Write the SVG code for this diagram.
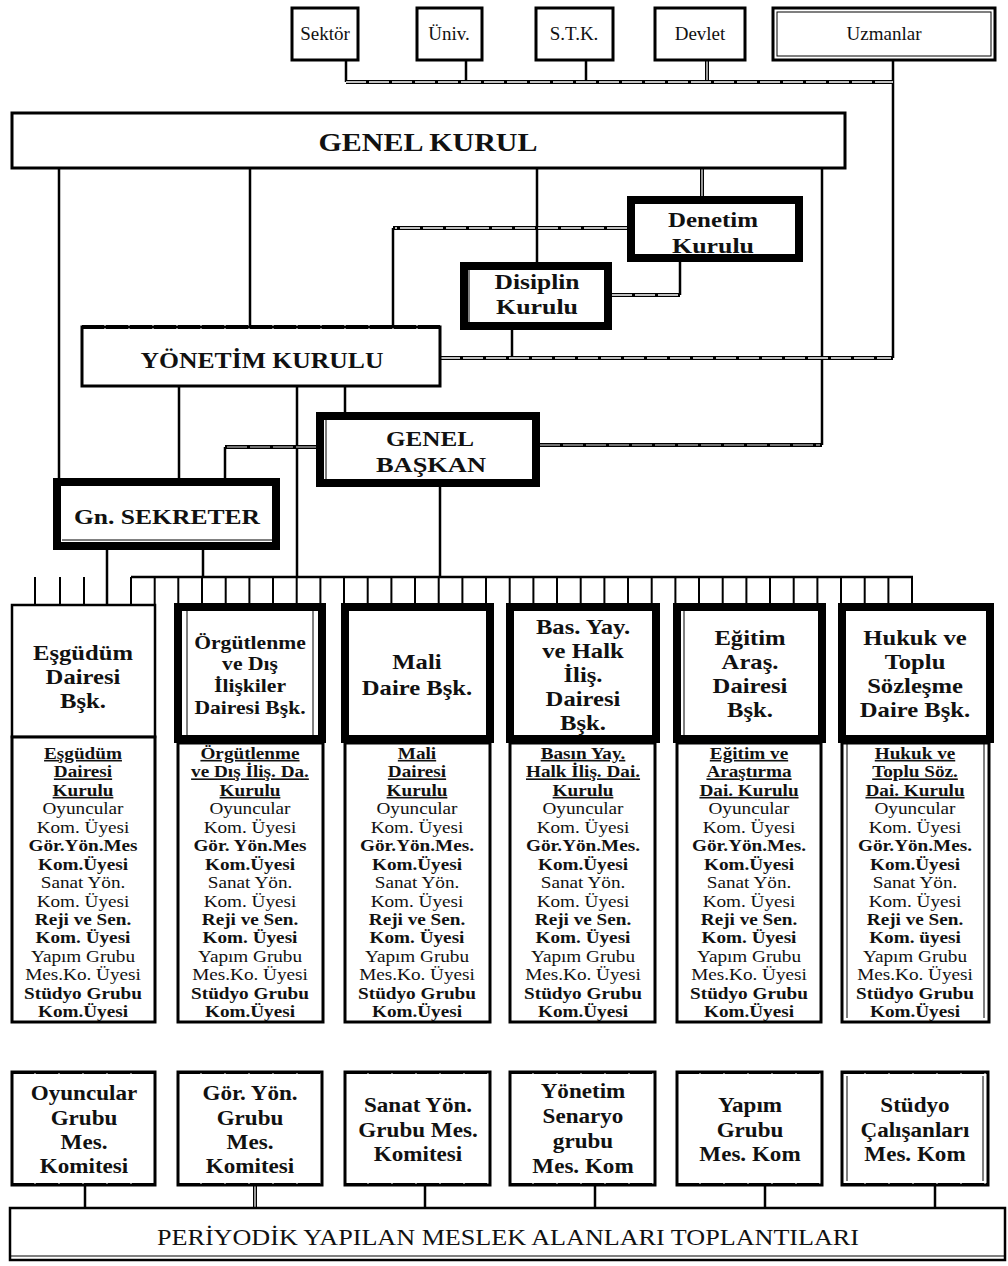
<svg xmlns="http://www.w3.org/2000/svg" width="1008" height="1266" viewBox="0 0 1008 1266">
<style>
text{font-family:"Liberation Serif","Times New Roman",serif;fill:#111;text-anchor:middle}
.b{font-weight:bold}
.box{fill:#fff;stroke:#000;stroke-width:3}
.thin{fill:#fff;stroke:#000;stroke-width:2.5}
.thick{fill:#fff;stroke:#000;stroke-width:8}
.in{fill:none;stroke:#000;stroke-width:1}
.ln{fill:none;stroke:#000;stroke-width:2.5}
.dbl{fill:none;stroke:#000;stroke-width:4}
.dbi{fill:none;stroke:#fff;stroke-width:1.3;stroke-dasharray:20 3}
.dbg{fill:none;stroke:#999;stroke-width:1.3;stroke-dasharray:20 3}
.tk{fill:none;stroke:#000;stroke-width:2}
.det{font-size:16px}
.u{text-decoration:underline;font-weight:bold}
.hd{font-size:22px;font-weight:bold}
.bt{font-size:22px;font-weight:bold}
</style>

<g id="connectors">
  <path class="ln" d="M346 60V82M466 60V82M586 60V82M893 60V358"/>
  <path class="dbl" d="M707 60V82"/><path d="M707 60V82" stroke="#fff" stroke-width="1.2"/>
  <path class="dbl" d="M346 82H893"/><path class="dbi" d="M346 82H893"/>
  <path class="ln" d="M59 168V478M250 168V327M537 168V262M822 168V445"/>
  <path class="dbl" d="M702 168V196"/><path d="M702 168V196" stroke="#fff" stroke-width="1.2"/>
  <path class="ln" d="M393 228V327"/>
  <path class="dbl" d="M627 228H393"/><path class="dbi" d="M627 228H395"/>
  <path class="ln" d="M680 262V295"/>
  <path class="dbl" d="M680 295H612"/><path class="dbi" d="M678 295H612"/>
  <path class="ln" d="M512 330V358"/>
  <path class="dbl" d="M440 358H893"/><path class="dbi" d="M440 358H891"/>
  <path class="dbl" d="M540 445H822"/><path class="dbg" d="M540 445H820"/>
  <path class="ln" d="M179 386V478M297 386V577M345 386V412"/>
  <path class="ln" d="M225 478V447"/>
  <path class="dbl" d="M225 447H316"/><path class="dbg" d="M227 447H316"/>
  <path class="ln" d="M107 550V605M203 550V577M440 487V577"/>
  <path class="ln" d="M131 577H913"/>
  <path class="tk" d="M131 577V605M154.7 577V605M178.3 577V605M202 577V605M225.7 577V605M249.4 577V605M273 577V605M296.7 577V605M320.4 577V605M344 577V605M367.7 577V605M391.4 577V605M415 577V605M438.7 577V605M462.4 577V605M486 577V605M509.7 577V605M533.4 577V605M557 577V605M580.7 577V605M604.4 577V605M628 577V605M651.7 577V605M675.4 577V605M699 577V605M722.7 577V605M746.4 577V605M770 577V605M793.7 577V605M817.4 577V605M841 577V605M864.7 577V605M888.4 577V605M912 577V605"/>
  <path class="tk" d="M35 577V605M60 577V605M84 577V605"/>
  <path class="ln" d="M85 1185V1208M425 1185V1208M595 1185V1208M765 1185V1208M935 1185V1208"/>
  <path class="dbl" d="M255 1185V1208"/><path d="M255 1185V1208" stroke="#fff" stroke-width="1.2"/>
</g>

<g id="sektor"><rect class="box" x="292" y="8" width="66" height="52"/><text x="325" y="40" font-size="19">Sektör</text></g>
<g id="univ"><rect class="box" x="417" y="8" width="65" height="52"/><text x="449" y="40" font-size="19">Üniv.</text></g>
<g id="stk"><rect class="box" x="536" y="8" width="77" height="52"/><text x="574" y="40" font-size="19">S.T.K.</text></g>
<g id="devlet"><rect class="box" x="655" y="8" width="90" height="52"/><text x="700" y="40" font-size="19">Devlet</text></g>
<g id="uzmanlar"><rect class="box" x="773" y="8" width="222" height="52"/><rect class="in" x="777" y="12" width="214" height="44"/><text x="884" y="40" font-size="19">Uzmanlar</text></g>

<g id="genel-kurul"><rect class="box" x="12" y="113" width="833" height="55"/><text class="b" x="428" y="151" font-size="25" textLength="219" lengthAdjust="spacingAndGlyphs">GENEL KURUL</text></g>

<g id="denetim"><rect class="thick" x="631" y="200" width="168" height="58"/><text class="b" x="713" y="227" font-size="21" textLength="90" lengthAdjust="spacingAndGlyphs">Denetim</text><text class="b" x="713" y="253" font-size="21" textLength="82" lengthAdjust="spacingAndGlyphs">Kurulu</text></g>

<g id="disiplin"><rect class="thick" x="464" y="266" width="144" height="60"/><path class="in" d="M469 270V322"/><text class="b" x="537" y="289" font-size="21" textLength="85" lengthAdjust="spacingAndGlyphs">Disiplin</text><text class="b" x="537" y="314" font-size="21" textLength="82" lengthAdjust="spacingAndGlyphs">Kurulu</text></g>

<g id="yonetim-kurulu"><rect class="box" x="82" y="327" width="358" height="59"/><path d="M82 327H440" stroke="#000" stroke-width="4" stroke-dasharray="22 2"/><text class="b" x="262" y="368" font-size="23" textLength="243" lengthAdjust="spacingAndGlyphs">YÖNETİM KURULU</text></g>

<g id="genel-baskan"><rect class="thick" x="320" y="416" width="216" height="67"/><path class="in" d="M326 420V479"/><text class="b" x="430" y="446" font-size="22" textLength="88" lengthAdjust="spacingAndGlyphs">GENEL</text><text class="b" x="431" y="472" font-size="22" textLength="110" lengthAdjust="spacingAndGlyphs">BAŞKAN</text></g>

<g id="gn-sekreter"><rect class="thick" x="57" y="482" width="219" height="64"/><path class="in" d="M62 540H272"/><text class="b" x="167" y="524" font-size="22" textLength="186" lengthAdjust="spacingAndGlyphs">Gn. SEKRETER</text></g>

<!-- Department columns -->
<g id="esgudum">
  <rect class="thin" x="12" y="605" width="143" height="132"/>
  <rect class="box" x="12" y="737" width="143" height="285"/>
  <g transform="translate(83 0) scale(1.12 1)"><text class="hd" x="0" y="660">Eşgüdüm</text><text class="hd" x="0" y="684">Dairesi</text><text class="hd" x="0" y="708">Bşk.</text></g>
  <g class="det" transform="translate(83 0) scale(1.2 1)">
    <text class="u" y="759">Eşgüdüm</text><text class="u" y="777.5">Dairesi</text><text class="u" y="796">Kurulu</text>
    <text y="814.4">Oyuncular</text><text y="832.8">Kom. Üyesi</text><text class="b" y="851.3">Gör.Yön.Mes</text><text class="b" y="869.7">Kom.Üyesi</text>
    <text y="888.2">Sanat Yön.</text><text y="906.6">Kom. Üyesi</text><text class="b" y="925">Reji ve Sen.</text><text class="b" y="943.5">Kom. Üyesi</text>
    <text y="962">Yapım Grubu</text><text y="980.4">Mes.Ko. Üyesi</text><text class="b" y="998.8">Stüdyo Grubu</text><text class="b" y="1017.2">Kom.Üyesi</text>
  </g>
</g>

<g id="orgutlenme">
  <rect class="thick" x="178" y="607" width="144" height="132"/><path class="in" d="M187 611V735M313 611V735"/>
  <rect class="box" x="178" y="743" width="145" height="279"/>
  <g transform="translate(250 0) scale(1.2 1)"><text class="b" font-size="18" x="0" y="649">Örgütlenme</text><text class="b" font-size="18" x="0" y="670">ve Dış</text><text class="b" font-size="18" x="0" y="692">İlişkiler</text><text class="b" font-size="18" x="0" y="714">Dairesi Bşk.</text></g>
  <g class="det" transform="translate(250 0) scale(1.2 1)">
    <text class="u" y="759">Örgütlenme</text><text class="u" y="777.5">ve Dış İliş. Da.</text><text class="u" y="796">Kurulu</text>
    <text y="814.4">Oyuncular</text><text y="832.8">Kom. Üyesi</text><text class="b" y="851.3">Gör. Yön.Mes</text><text class="b" y="869.7">Kom.Üyesi</text>
    <text y="888.2">Sanat Yön.</text><text y="906.6">Kom. Üyesi</text><text class="b" y="925">Reji ve Sen.</text><text class="b" y="943.5">Kom. Üyesi</text>
    <text y="962">Yapım Grubu</text><text y="980.4">Mes.Ko. Üyesi</text><text class="b" y="998.8">Stüdyo Grubu</text><text class="b" y="1017.2">Kom.Üyesi</text>
  </g>
</g>

<g id="mali">
  <rect class="thick" x="345" y="607" width="145" height="132"/>
  <rect class="box" x="345" y="743" width="145" height="279"/>
  <g transform="translate(417 0) scale(1.12 1)"><text class="hd" x="0" y="669">Mali</text><text class="hd" x="0" y="695">Daire Bşk.</text></g>
  <g class="det" transform="translate(417 0) scale(1.2 1)">
    <text class="u" y="759">Mali</text><text class="u" y="777.5">Dairesi</text><text class="u" y="796">Kurulu</text>
    <text y="814.4">Oyuncular</text><text y="832.8">Kom. Üyesi</text><text class="b" y="851.3">Gör.Yön.Mes.</text><text class="b" y="869.7">Kom.Üyesi</text>
    <text y="888.2">Sanat Yön.</text><text y="906.6">Kom. Üyesi</text><text class="b" y="925">Reji ve Sen.</text><text class="b" y="943.5">Kom. Üyesi</text>
    <text y="962">Yapım Grubu</text><text y="980.4">Mes.Ko. Üyesi</text><text class="b" y="998.8">Stüdyo Grubu</text><text class="b" y="1017.2">Kom.Üyesi</text>
  </g>
</g>

<g id="basin">
  <rect class="thick" x="510" y="607" width="146" height="132"/>
  <rect class="box" x="510" y="743" width="145" height="279"/>
  <g transform="translate(583 0) scale(1.12 1)"><text class="hd" x="0" y="634">Bas. Yay.</text><text class="hd" x="0" y="658">ve Halk</text><text class="hd" x="0" y="682">İliş.</text><text class="hd" x="0" y="706">Dairesi</text><text class="hd" x="0" y="730">Bşk.</text></g>
  <g class="det" transform="translate(583 0) scale(1.2 1)">
    <text class="u" y="759">Basın Yay.</text><text class="u" y="777.5">Halk İliş. Dai.</text><text class="u" y="796">Kurulu</text>
    <text y="814.4">Oyuncular</text><text y="832.8">Kom. Üyesi</text><text class="b" y="851.3">Gör.Yön.Mes.</text><text class="b" y="869.7">Kom.Üyesi</text>
    <text y="888.2">Sanat Yön.</text><text y="906.6">Kom. Üyesi</text><text class="b" y="925">Reji ve Sen.</text><text class="b" y="943.5">Kom. Üyesi</text>
    <text y="962">Yapım Grubu</text><text y="980.4">Mes.Ko. Üyesi</text><text class="b" y="998.8">Stüdyo Grubu</text><text class="b" y="1017.2">Kom.Üyesi</text>
  </g>
</g>

<g id="egitim">
  <rect class="thick" x="677" y="607" width="145" height="132"/><path class="in" d="M684 611V735"/>
  <rect class="box" x="677" y="743" width="144" height="279"/>
  <g transform="translate(750 0) scale(1.12 1)"><text class="hd" x="0" y="645">Eğitim</text><text class="hd" x="0" y="669">Araş.</text><text class="hd" x="0" y="693">Dairesi</text><text class="hd" x="0" y="717">Bşk.</text></g>
  <g class="det" transform="translate(749 0) scale(1.2 1)">
    <text class="u" y="759">Eğitim ve</text><text class="u" y="777.5">Araştırma</text><text class="u" y="796">Dai. Kurulu</text>
    <text y="814.4">Oyuncular</text><text y="832.8">Kom. Üyesi</text><text class="b" y="851.3">Gör.Yön.Mes.</text><text class="b" y="869.7">Kom.Üyesi</text>
    <text y="888.2">Sanat Yön.</text><text y="906.6">Kom. Üyesi</text><text class="b" y="925">Reji ve Sen.</text><text class="b" y="943.5">Kom. Üyesi</text>
    <text y="962">Yapım Grubu</text><text y="980.4">Mes.Ko. Üyesi</text><text class="b" y="998.8">Stüdyo Grubu</text><text class="b" y="1017.2">Kom.Üyesi</text>
  </g>
</g>

<g id="hukuk">
  <rect class="thick" x="842" y="607" width="148" height="132"/>
  <rect class="box" x="842" y="743" width="147" height="279"/><path class="in" d="M847 743V1018M984 743V1018"/>
  <g transform="translate(915 0) scale(1.12 1)"><text class="hd" x="0" y="645">Hukuk ve</text><text class="hd" x="0" y="669">Toplu</text><text class="hd" x="0" y="693">Sözleşme</text><text class="hd" x="0" y="717">Daire Bşk.</text></g>
  <g class="det" transform="translate(915 0) scale(1.2 1)">
    <text class="u" y="759">Hukuk ve</text><text class="u" y="777.5">Toplu Söz.</text><text class="u" y="796">Dai. Kurulu</text>
    <text y="814.4">Oyuncular</text><text y="832.8">Kom. Üyesi</text><text class="b" y="851.3">Gör.Yön.Mes.</text><text class="b" y="869.7">Kom.Üyesi</text>
    <text y="888.2">Sanat Yön.</text><text y="906.6">Kom. Üyesi</text><text class="b" y="925">Reji ve Sen.</text><text class="b" y="943.5">Kom. üyesi</text>
    <text y="962">Yapım Grubu</text><text y="980.4">Mes.Ko. Üyesi</text><text class="b" y="998.8">Stüdyo Grubu</text><text class="b" y="1017.2">Kom.Üyesi</text>
  </g>
</g>

<!-- Bottom committees -->
<g id="oyuncular-grubu"><rect class="box" x="12" y="1072" width="143" height="113"/><path class="tk" d="M12 1073H155M12 1184H155" stroke-width="3" stroke-dasharray="22 2"/>
  <g transform="translate(84 0) scale(1.05 1)"><text class="bt" y="1100">Oyuncular</text><text class="bt" y="1125">Grubu</text><text class="bt" y="1149">Mes.</text><text class="bt" y="1173">Komitesi</text></g></g>
<g id="gor-yon-grubu"><rect class="box" x="178" y="1072" width="144" height="113"/><path class="tk" d="M178 1073H322M178 1184H322" stroke-width="3" stroke-dasharray="22 2"/>
  <g transform="translate(250 0) scale(1.05 1)"><text class="bt" y="1100">Gör. Yön.</text><text class="bt" y="1125">Grubu</text><text class="bt" y="1149">Mes.</text><text class="bt" y="1173">Komitesi</text></g></g>
<g id="sanat-yon-grubu"><rect class="box" x="345" y="1072" width="145" height="113"/><path class="tk" d="M345 1073H490M345 1184H490" stroke-width="3" stroke-dasharray="22 2"/>
  <g transform="translate(418 0) scale(1.05 1)"><text class="bt" y="1112">Sanat Yön.</text><text class="bt" y="1137">Grubu Mes.</text><text class="bt" y="1161">Komitesi</text></g></g>
<g id="yonetim-senaryo"><rect class="box" x="510" y="1072" width="145" height="113"/><path class="tk" d="M510 1073H655M510 1184H655" stroke-width="3" stroke-dasharray="22 2"/>
  <g transform="translate(583 0) scale(1.05 1)"><text class="bt" y="1098">Yönetim</text><text class="bt" y="1123">Senaryo</text><text class="bt" y="1148">grubu</text><text class="bt" y="1173">Mes. Kom</text></g></g>
<g id="yapim-grubu"><rect class="box" x="677" y="1072" width="145" height="113"/><path class="tk" d="M677 1073H822M677 1184H822" stroke-width="3" stroke-dasharray="22 2"/>
  <g transform="translate(750 0) scale(1.05 1)"><text class="bt" y="1112">Yapım</text><text class="bt" y="1137">Grubu</text><text class="bt" y="1161">Mes. Kom</text></g></g>
<g id="studyo-calisanlari"><rect class="box" x="842" y="1072" width="146" height="113"/><path class="in" d="M847 1076V1181M983 1076V1181"/><path class="tk" d="M842 1073H988M842 1184H988" stroke-width="3" stroke-dasharray="22 2"/>
  <g transform="translate(915 0) scale(1.05 1)"><text class="bt" y="1112">Stüdyo</text><text class="bt" y="1137">Çalışanları</text><text class="bt" y="1161">Mes. Kom</text></g></g>

<g id="periyodik"><rect class="thin" x="10" y="1208" width="995" height="52"/><path class="in" d="M10 1256H1005"/><text x="508" y="1245" font-size="24" textLength="702" lengthAdjust="spacingAndGlyphs">PERİYODİK YAPILAN MESLEK ALANLARI TOPLANTILARI</text></g>
</svg>
